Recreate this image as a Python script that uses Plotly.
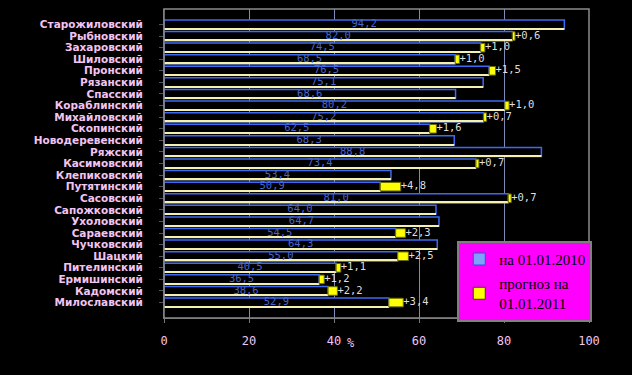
import plotly.graph_objects as go

categories = ["Старожиловский", "Рыбновский", "Захаровский", "Шиловский", "Пронский",
              "Рязанский", "Спасский", "Кораблинский", "Михайловский", "Скопинский",
              "Новодеревенский", "Ряжский", "Касимовский", "Клепиковский", "Путятинский",
              "Сасовский", "Сапожковский", "Ухоловский", "Сараевский", "Чучковский",
              "Шацкий", "Пителинский", "Ермишинский", "Кадомский", "Милославский"]

value_2010 = [94.2, 82.0, 74.5, 68.5, 76.5, 75.1, 68.6, 80.2, 75.2, 62.5,
              68.3, 88.8, 73.4, 53.4, 50.9, 81.0, 64.0, 64.7, 54.5, 64.3,
              55.0, 40.5, 36.5, 38.6, 52.9]

increase_2011 = [None, 0.6, 1.0, 1.0, 1.5, None, None, 1.0, 0.7, 1.6,
                 None, None, 0.7, None, 4.8, 0.7, None, None, 2.3, None,
                 2.5, 1.1, 1.2, 2.2, 3.4]

x_ticks = [0, 20, 40, 60, 80, 100]

series_names = ["на 01.01.2010", "прогноз на<br>01.01.2011"]


def fmt(v):
    return f"{v:.1f}".replace(".", ",")


inc_x = [v + d if d is not None else None for v, d in zip(value_2010, increase_2011)]
inc_text = ["+" + fmt(d) if d is not None else "" for d in increase_2011]

fig = go.Figure()

# main bars (2010)
fig.add_trace(go.Bar(
    y=categories, x=value_2010, orientation="h",
    width=0.78, offset=-0.39,
    marker=dict(color="#000000", line=dict(color="#3d6af5", width=1.5)),
    showlegend=False, hoverinfo="skip"))

# pale bottom edge of each bar
fig.add_trace(go.Bar(
    y=categories, x=value_2010, orientation="h",
    width=0.12, offset=0.32,
    marker=dict(color="#f4f0b0", line=dict(width=0)),
    showlegend=False, hoverinfo="skip"))

# forecast increase
fig.add_trace(go.Bar(
    y=categories, x=increase_2011, base=value_2010, orientation="h",
    width=0.74, offset=-0.37,
    marker=dict(color="#ffff00", line=dict(color="#6b6b00", width=1)),
    showlegend=False, hoverinfo="skip"))

# 2010 value labels (centred in bar)
fig.add_trace(go.Scatter(
    y=categories, x=[v / 2 for v in value_2010], mode="text",
    text=[fmt(v) for v in value_2010],
    textfont=dict(family="DejaVu Sans Mono", size=10.5, color="#4a66cc"),
    showlegend=False, hoverinfo="skip"))

# increase labels
fig.add_trace(go.Scatter(
    y=categories, x=inc_x, mode="text", text=inc_text,
    textposition="middle right",
    textfont=dict(family="DejaVu Sans Mono", size=10.5, color="#dedede"),
    showlegend=False, hoverinfo="skip"))

# legend entries
fig.add_trace(go.Bar(y=[None], x=[None], orientation="h", name=series_names[0],
                     legendgroup="a",
                     marker=dict(color="#7fa0ff", line=dict(color="#2f50d0", width=1))))
fig.add_trace(go.Bar(y=[None], x=[None], orientation="h", name=series_names[1],
                     legendgroup="b",
                     marker=dict(color="#ffff00", line=dict(color="#404000", width=1))))

fig.update_layout(
    width=632, height=375,
    margin=dict(l=164, r=43, t=9, b=57),
    paper_bgcolor="#000000", plot_bgcolor="#000000",
    barmode="overlay",
    showlegend=True,
    legend=dict(x=0.69, y=0.25, xanchor="left", yanchor="top",
                bgcolor="#ff00ff", bordercolor="#808080", borderwidth=2,
                font=dict(family="Liberation Serif", size=15, color="#000000"),
                tracegroupgap=2, itemwidth=30),
    xaxis=dict(range=[0, 100], tickvals=x_ticks, ticktext=[str(t) for t in x_ticks],
               showgrid=True, gridcolor="#7d8bb8", gridwidth=1,
               zeroline=False, showline=True, linecolor="#555555",
               ticks="outside", ticklen=4, tickcolor="#777777", automargin=False,
               tickfont=dict(family="DejaVu Sans Mono", size=12, color="#f2c4f2"),
               ticklabelstandoff=8),
    yaxis=dict(type="category", autorange="reversed",
               tickmode="array", tickvals=categories, ticktext=categories,
               showline=True, linecolor="#555555", showgrid=False, automargin=False,
               ticks="outside", ticklen=4, tickcolor="#555555",
               tickfont=dict(family="DejaVu Sans", size=10.5, color="#f2c4f2",
                             weight="bold"),
               ticklabelstandoff=14),
    shapes=[dict(type="rect", xref="paper", yref="paper", x0=0, x1=1, y0=0, y1=1,
                 line=dict(color="#8c8c8c", width=1.5), layer="above")],
    annotations=[dict(text="%", xref="paper", yref="paper", x=0.44, y=-0.11,
                      showarrow=False,
                      font=dict(family="DejaVu Sans Mono", size=12, color="#f2c4f2"))],
)

fig.write_html(
    "out.html",
    config={"displayModeBar": False},
    post_script="document.body.style.margin='0';document.body.style.background='#000';"
                "document.body.style.overflow='hidden';")
